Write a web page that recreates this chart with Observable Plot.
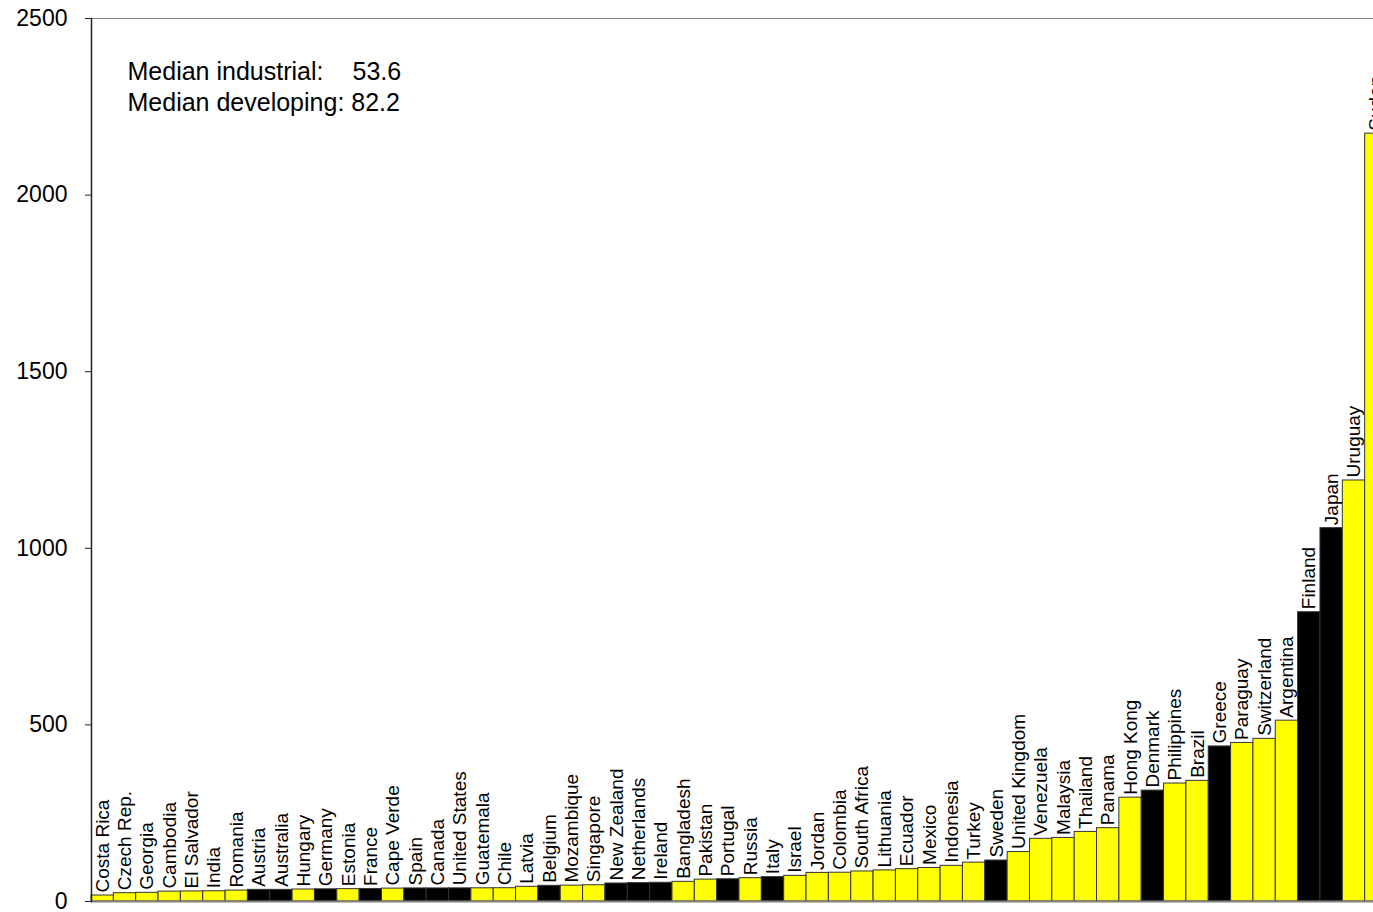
<!DOCTYPE html>
<html><head><meta charset="utf-8">
<script src="https://cdn.jsdelivr.net/npm/d3@7"></script>
<script src="https://cdn.jsdelivr.net/npm/@observablehq/plot@0.6"></script>
<style>html,body{margin:0;padding:0;overflow:hidden;background:#fff;} svg{max-width:none !important;}</style>
</head><body><div id="chart"></div>
<script>
const countries = ["Costa Rica","Czech Rep.","Georgia","Cambodia","El Salvador","India","Romania","Austria","Australia","Hungary","Germany","Estonia","France","Cape Verde","Spain","Canada","United States","Guatemala","Chile","Latvia","Belgium","Mozambique","Singapore","New Zealand","Netherlands","Ireland","Bangladesh","Pakistan","Portugal","Russia","Italy","Israel","Jordan","Colombia","South Africa","Lithuania","Ecuador","Mexico","Indonesia","Turkey","Sweden","United Kingdom","Venezuela","Malaysia","Thailand","Panama","Hong Kong","Denmark","Philippines","Brazil","Greece","Paraguay","Switzerland","Argentina","Finland","Japan","Uruguay","Sudan"];
const values = [17,23.5,24.6,28,28.5,29,31,33,33,34,34.5,35,35.5,36.5,37,37,37.2,37.4,37.6,41.6,44.4,45,46,51,52,53,55.7,62,63,66,69,72.6,81,81.5,85,88,91.5,95,101,110,116,140,177.5,180,197,207.6,294,314,334,341.6,439,449,460.5,512,819,1057,1192,2174];
const industrial = ["Austria","Australia","Germany","France","Spain","Canada","United States","Belgium","New Zealand","Netherlands","Ireland","Portugal","Italy","Sweden","Denmark","Greece","Finland","Japan"];
const yTicks = [0,500,1000,1500,2000,2500];
const medianNames = ["Median industrial:", "Median developing:"];
const medianValues = ["53.6", "82.2"];

const data = countries.map((c, i) => ({country: c, value: values[i], color: industrial.includes(c) ? "#000000" : "#ffff00"}));

const chart = Plot.plot({
  width: 1390,
  height: 912,
  marginLeft: 91,
  marginRight: 3,
  marginTop: 18,
  marginBottom: 11,
  style: {fontFamily: "'Liberation Sans', Arial, sans-serif", background: "#fff", color: "#000", maxWidth: "none"},
  x: {domain: countries, padding: 0, round: false, axis: null},
  y: {domain: [0, 2500], axis: null, label: null},
  marks: [
    Plot.barY(data, {x: "country", y: "value", fill: "color", stroke: "#333", strokeWidth: 1}),
    Plot.text(data, {x: "country", y: "value", text: "country", rotate: -90, textAnchor: "start", lineAnchor: "middle", dy: -3, fontSize: 19, fill: "#000"}),
    Plot.ruleY([2500], {stroke: "#808080", strokeWidth: 1}),
    Plot.ruleY([0], {stroke: "#808080", strokeWidth: 2}),
    Plot.frame({anchor: "left", stroke: "#222", strokeWidth: 1.5}),
    Plot.axisY({ticks: yTicks, tickSize: 6, tickPadding: 18, fontSize: 23, tickFormat: d => String(d), stroke: "#222", label: null}),
    Plot.text([medianNames[0]], {frameAnchor: "top-left", text: d => d, dx: 36, dy: 44, fontSize: 25, textAnchor: "start", fill: "#000"}),
    Plot.text([medianValues[0]], {frameAnchor: "top-left", text: d => d, dx: 261, dy: 44, fontSize: 25, textAnchor: "start", fill: "#000"}),
    Plot.text([medianNames[1] + " " + medianValues[1]], {frameAnchor: "top-left", text: d => d, dx: 36, dy: 75, fontSize: 25, textAnchor: "start", fill: "#000"})
  ]
});
document.getElementById("chart").appendChild(chart);
</script>
</body></html>
